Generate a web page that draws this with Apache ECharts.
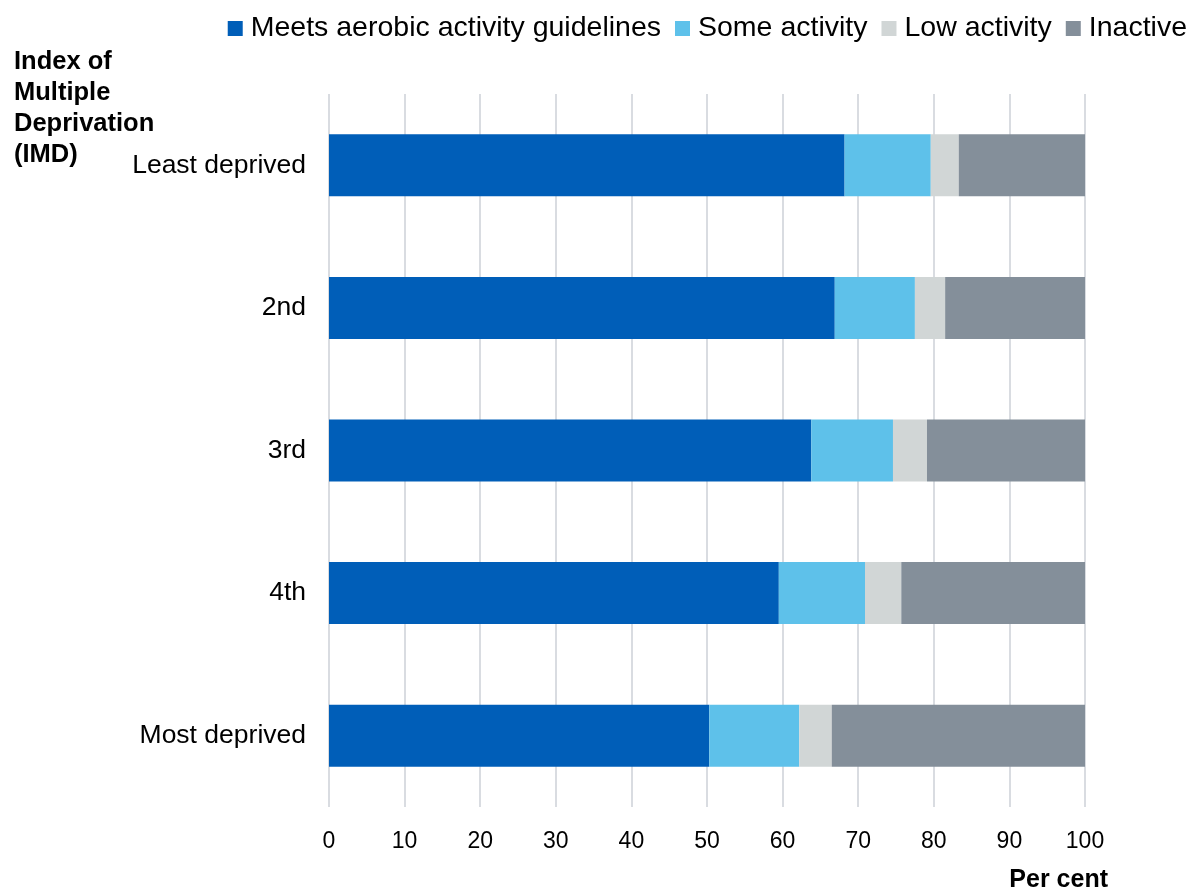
<!DOCTYPE html>
<html>
<head>
<meta charset="utf-8">
<script src="https://cdn.jsdelivr.net/npm/echarts@6/dist/echarts.min.js"></script>
<style>html,body{margin:0;padding:0;background:#fff;}#c{width:1200px;height:891px;}</style>
</head>
<body>
<div id="c"></div>
<script>
const categories = ['Least deprived', '2nd', '3rd', '4th', 'Most deprived'];
const seriesNames = ['Meets aerobic activity guidelines', 'Some activity', 'Low activity', 'Inactive'];
const meets = [68.2, 66.9, 63.8, 59.5, 50.3];
const some = [11.4, 10.6, 10.8, 11.4, 11.9];
const low = [3.7, 4.0, 4.5, 4.8, 4.3];
const inactive = [16.7, 18.5, 20.9, 24.3, 33.5];
const xTicks = [0, 10, 20, 30, 40, 50, 60, 70, 80, 90, 100];

const colors = ['#005EB8', '#5EC1EA', '#D1D6D6', '#848F9A'];
const values = [meets, some, low, inactive];
const font = 'Liberation Sans, Arial, sans-serif';

const chart = echarts.init(document.getElementById('c'));
chart.setOption({
  animation: false,
  backgroundColor: '#fff',
  textStyle: { fontFamily: font, color: '#000' },
  title: {
    text: 'Index of\nMultiple\nDeprivation\n(IMD)',
    left: 9, top: 41,
    textStyle: { fontFamily: font, fontWeight: 'bold', fontSize: 25.5, lineHeight: 31, color: '#000' }
  },
  legend: {
    top: 9, right: 8,
    itemWidth: 15, itemHeight: 15, itemGap: 14,
    icon: 'rect',
    textStyle: { fontFamily: font, fontSize: 28.5, color: '#000', padding: [0, 0, 0, 3] },
    data: seriesNames
  },
  grid: { left: 329, right: 115, top: 94, bottom: 84, containLabel: false, outerBoundsMode: 'none' },
  xAxis: {
    type: 'value', min: 0, max: 100, interval: 10,
    axisLine: { show: false }, axisTick: { show: false },
    splitLine: { lineStyle: { color: '#D9DCE1', width: 2 } },
    axisLabel: { fontFamily: font, fontSize: 23, color: '#000', margin: 23,
      formatter: v => xTicks.includes(v) ? String(v) : '' },
    name: 'Per cent', nameLocation: 'end', nameGap: 23,
    nameTextStyle: { fontFamily: font, fontWeight: 'bold', fontSize: 25, color: '#000',
      align: 'right', verticalAlign: 'top', padding: [61, 0, 0, 0] }
  },
  yAxis: {
    type: 'category', data: categories, inverse: true,
    axisLine: { show: false }, axisTick: { show: false },
    axisLabel: { fontFamily: font, fontSize: 26.5, color: '#000', margin: 23 }
  },
  series: seriesNames.map((n, i) => ({
    name: n, type: 'bar', stack: 'total', barWidth: 62,
    itemStyle: { color: colors[i] },
    data: values[i]
  }))
});
</script>
</body>
</html>
